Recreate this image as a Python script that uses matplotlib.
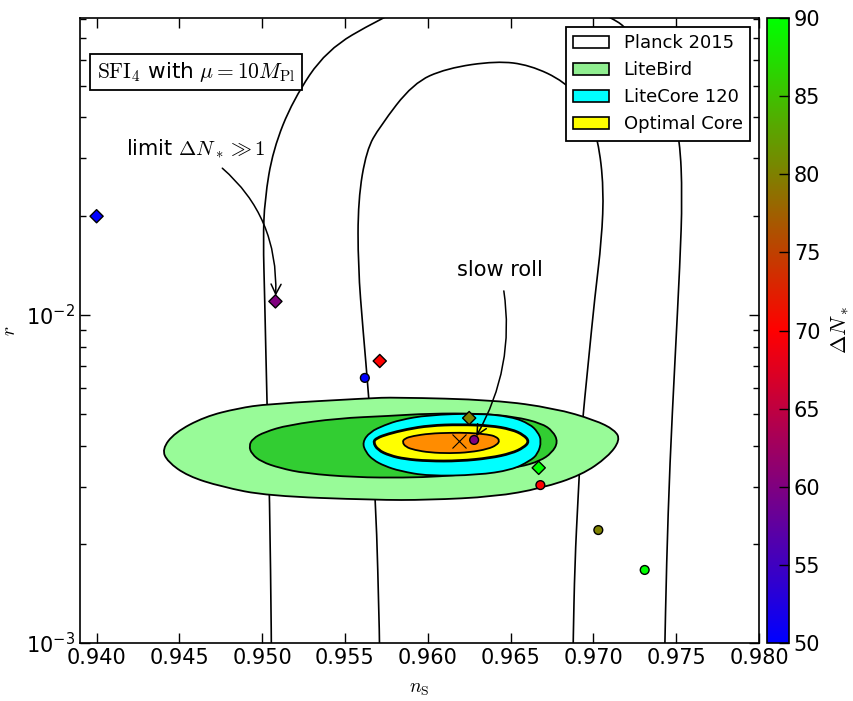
import matplotlib
matplotlib.use("Agg")
import numpy as np
import matplotlib.pyplot as plt
from matplotlib.patches import Patch, PathPatch
from matplotlib.path import Path

plt.rcParams['mathtext.fontset'] = 'cm'
plt.rcParams['font.size'] = 15
plt.rcParams['xtick.direction'] = 'in'
plt.rcParams['ytick.direction'] = 'in'
plt.rcParams['xtick.top'] = True
plt.rcParams['ytick.right'] = True

# model predictions, diamonds and circles, coloured by Delta N_*
dn_values = [50, 60, 70, 80, 90]
diamond_ns = [0.9400, 0.9508, 0.9571, 0.9625, 0.9667]
diamond_r = [0.0200, 0.0110, 0.00724, 0.00485, 0.00342]
circle_ns = [0.9562, 0.9628, 0.9668, 0.9703, 0.9731]
circle_r = [0.00643, 0.00416, 0.00303, 0.00221, 0.00167]

# fiducial point
fid_ns, fid_r = 0.96187, 0.00413

# Planck 2015 contours (lines only)
planck2_ns = [0.95056, 0.95056, 0.95045, 0.95029, 0.95015, 0.95006, 0.95015, 0.95065,
              0.95186, 0.95388, 0.95700, 0.96073, 0.96677, 0.97120, 0.97190, 0.97341,
              0.97462, 0.97523, 0.97537, 0.97523, 0.97492, 0.97462, 0.97442, 0.97430]
planck2_r = [0.000888, 0.001, 0.002793, 0.00538, 0.01137, 0.01693, 0.02242, 0.03184,
             0.04523, 0.06424, 0.07932, 0.0979, 0.1050, 0.07987, 0.07568, 0.06203,
             0.04684, 0.03416, 0.02294, 0.01437, 0.007124, 0.003531, 0.00175, 0.000888]
planck1_ns = [0.95710, 0.95710, 0.95686, 0.95644, 0.95609, 0.95579, 0.95579, 0.95630,
              0.95710, 0.95911, 0.96113, 0.96415, 0.96616, 0.96828, 0.96959, 0.97029,
              0.97063, 0.97050, 0.97009, 0.96969, 0.96929, 0.96908, 0.96888, 0.96878,
              0.96877]
planck1_r = [0.000888, 0.001, 0.002793, 0.005635, 0.0090, 0.01404, 0.02242, 0.03184,
             0.03751, 0.05086, 0.0565, 0.05947, 0.05782, 0.05144, 0.04315, 0.03416,
             0.02439, 0.01693, 0.01137, 0.007124, 0.00446, 0.002793, 0.00175, 0.001,
             0.000888]

# LiteBird contours
litebird2_ns = [0.94395, 0.94429, 0.94550, 0.94753, 0.95033, 0.95680, 0.96000, 0.96405,
                0.96687, 0.96929, 0.97089, 0.97162, 0.97130, 0.97009, 0.96767, 0.96405,
                0.95801, 0.95637, 0.95033, 0.94854, 0.94653, 0.94471]
litebird2_r = [0.003895, 0.00357, 0.003229, 0.002996, 0.002808, 0.002729, 0.002729, 0.002793,
               0.002963, 0.003252, 0.003698, 0.004157, 0.00446, 0.004785, 0.005194, 0.005507,
               0.005612, 0.005572, 0.005354, 0.005194, 0.004897, 0.004377]
litebird1_ns = [0.94920, 0.94937, 0.94995, 0.95106, 0.95257, 0.95559, 0.95861, 0.96073,
                0.96314, 0.96556, 0.96677, 0.96749, 0.96787, 0.96755, 0.96687, 0.96526,
                0.96314, 0.96012, 0.95760, 0.95458, 0.95156, 0.95015, 0.94943]
litebird1_r = [0.003987, 0.003769, 0.00357, 0.003416, 0.003291, 0.0032, 0.003191, 0.003218,
               0.003298, 0.00344, 0.003588, 0.003796, 0.0041, 0.004429, 0.004675, 0.004897,
               0.005009, 0.005009, 0.004921, 0.004843, 0.004619, 0.004398, 0.004202]

# LiteCore 120 contour
litecore_ns = [0.95605, 0.95625, 0.95670, 0.95740, 0.95831, 0.96002, 0.96302, 0.96506,
               0.96616, 0.96665, 0.96687, 0.96665, 0.96616, 0.96506, 0.96302, 0.96000,
               0.95831, 0.95740, 0.95650]
litecore_r = [0.004092, 0.003822, 0.003613, 0.003464, 0.003345, 0.003229, 0.003252, 0.003369,
              0.003588, 0.003769, 0.004129, 0.004398, 0.004653, 0.004897, 0.005015, 0.004955,
              0.004785, 0.004619, 0.004398]

# Optimal Core contours
core2_ns = [0.95670, 0.95698, 0.95770, 0.95861, 0.96000, 0.96193, 0.96375, 0.96506,
            0.96580, 0.96613, 0.96580, 0.96506, 0.96375, 0.96193, 0.96012, 0.95871,
            0.95758, 0.95692]
core2_r = [0.0041, 0.003876, 0.003729, 0.003639, 0.003588, 0.003588, 0.003664, 0.003787,
           0.003945, 0.004115, 0.004306, 0.004482, 0.004603, 0.004636, 0.004603, 0.004482,
           0.004337, 0.004217]
core1_ns = [0.95846, 0.95867, 0.95921, 0.96012, 0.96133, 0.96254, 0.96364, 0.96417,
            0.96435, 0.96411, 0.96364, 0.96254, 0.96133, 0.96012, 0.95909, 0.95861]
core1_r = [0.0041, 0.003959, 0.003876, 0.003808, 0.003787, 0.003814, 0.003904, 0.004015,
           0.004144, 0.004262, 0.004322, 0.004374, 0.004374, 0.004352, 0.004276, 0.004202]

xticks = [0.940, 0.945, 0.950, 0.955, 0.960, 0.965, 0.970, 0.975, 0.980]
cbar_ticks = [50, 55, 60, 65, 70, 75, 80, 85, 90]


def curve_path(ns, r, closed):
    # quadratic bezier through the midpoints, read points act as control points
    # (midpoints taken in log r so they sit on the drawn curve of the log axis)
    p = np.column_stack([ns, np.log10(r)])
    if closed:
        nxt = np.roll(p, -1, axis=0)
        mid = 0.5 * (p + nxt)
        verts = [mid[-1]]
        codes = [Path.MOVETO]
        for i in range(len(p)):
            verts += [p[i], mid[i]]
            codes += [Path.CURVE3, Path.CURVE3]
        verts.append(mid[-1])
        codes.append(Path.CLOSEPOLY)
    else:
        mid = 0.5 * (p[1:] + p[:-1])
        verts = [p[0]]
        codes = [Path.MOVETO]
        for i in range(1, len(p) - 1):
            verts += [p[i], mid[i]]
            codes += [Path.CURVE3, Path.CURVE3]
        verts.append(p[-1])
        codes.append(Path.LINETO)
    verts = np.array(verts)
    verts[:, 1] = 10 ** verts[:, 1]
    return Path(verts, codes)


fig = plt.figure(figsize=(8.54, 7.01), dpi=100)
ax = fig.add_axes([0.0937, 0.0827, 0.795, 0.8916])
cax = fig.add_axes([0.8981, 0.0827, 0.0258, 0.8916])

for pns, pr in [(planck2_ns, planck2_r), (planck1_ns, planck1_r)]:
    ax.add_patch(PathPatch(curve_path(pns, pr, False), fc='none', ec='k', lw=1.2, zorder=1))

fills = [(litebird2_ns, litebird2_r, 'palegreen', 1.3),
         (litebird1_ns, litebird1_r, 'limegreen', 1.3),
         (litecore_ns, litecore_r, 'cyan', 1.3),
         (core2_ns, core2_r, 'yellow', 2.0),
         (core1_ns, core1_r, 'darkorange', 1.3)]
for z, (fns, fr, col, lw) in enumerate(fills):
    ax.add_patch(PathPatch(curve_path(fns, fr, True), fc=col, ec='k', lw=lw, zorder=2 + z))

ax.plot(fid_ns, fid_r, 'x', color='k', ms=10, mew=0.8, zorder=7)

sc = ax.scatter(diamond_ns, diamond_r, c=dn_values, cmap='brg', vmin=50, vmax=90,
                marker='D', s=45, edgecolors='k', linewidths=1.0, zorder=8, clip_on=False)
ax.scatter(circle_ns, circle_r, c=dn_values, cmap='brg', vmin=50, vmax=90,
           marker='o', s=40, edgecolors='k', linewidths=1.0, zorder=8)

ax.annotate(r'limit $\Delta N_*\gg 1$', xy=(diamond_ns[1], diamond_r[1]),
            xytext=(0.94598, 0.0321), ha='center', va='center', fontsize=15,
            arrowprops=dict(arrowstyle='->', color='k', lw=1.1, shrinkA=6, shrinkB=4,
                            connectionstyle='arc3,rad=-0.3', mutation_scale=18),
            zorder=9)
ax.annotate('slow roll', xy=(circle_ns[1], circle_r[1]),
            xytext=(0.96435, 0.01372), ha='center', va='center', fontsize=15,
            arrowprops=dict(arrowstyle='->', color='k', lw=1.1, shrinkA=6, shrinkB=3,
                            connectionstyle='arc3,rad=-0.2', mutation_scale=18),
            zorder=9)

ax.text(0.171, 0.9136, r'$\mathrm{SFI}_4$ with $\mu=10M_{\mathrm{Pl}}$',
        transform=ax.transAxes, ha='center', va='center', fontsize=15.5,
        bbox=dict(boxstyle='square,pad=0.3', fc='w', ec='k', lw=1.3), zorder=10)

ax.set_yscale('log')
ax.set_xlim(0.939, 0.980)
ax.set_ylim(0.001, 0.0804)
ax.set_xticks(xticks)
ax.set_xticklabels(['%.3f' % t for t in xticks])
ax.tick_params(which='major', length=7, width=1)
ax.tick_params(which='minor', length=4, width=1)
ax.set_xlabel(r'$n_\mathrm{S}$', fontsize=14, labelpad=8)
ax.set_ylabel(r'$r$', fontsize=14, labelpad=5)
for s in ax.spines.values():
    s.set_linewidth(1.2)

handles = [Patch(fc='white', ec='k', lw=1.2, label='Planck 2015'),
           Patch(fc='lightgreen', ec='k', lw=1.2, label='LiteBird'),
           Patch(fc='cyan', ec='k', lw=1.2, label='LiteCore 120'),
           Patch(fc='yellow', ec='k', lw=1.2, label='Optimal Core')]
leg = ax.legend(handles=handles, loc='upper right', fontsize=13, fancybox=False,
                framealpha=1, edgecolor='k', borderaxespad=0.5)
leg.get_frame().set_linewidth(1.3)
leg.set_zorder(11)

cb = fig.colorbar(sc, cax=cax, ticks=cbar_ticks)
cb.outline.set_linewidth(1.2)
cax.tick_params(direction='in', length=7, width=1, labelsize=15)
cb.set_label(r'$\Delta N_*$', fontsize=16, labelpad=6)

fig.savefig('out.png', dpi=100)
